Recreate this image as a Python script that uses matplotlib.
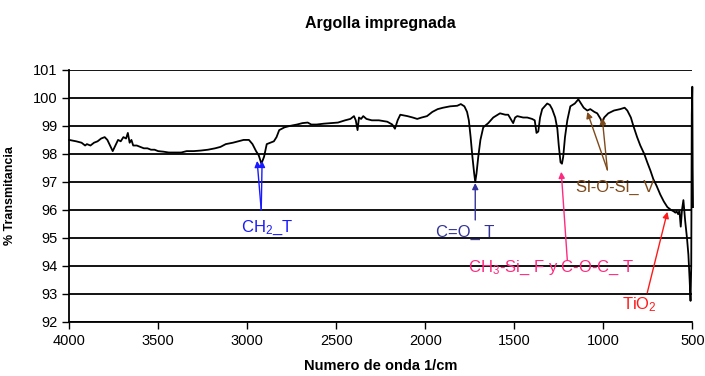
import matplotlib
matplotlib.use("Agg")
import matplotlib.pyplot as plt

plt.rcParams["font.family"] = ["Liberation Sans", "DejaVu Sans"]
plt.rcParams["mathtext.default"] = "regular"

# espectro FTIR (numero de onda, % transmitancia)
wn = [4000, 3960, 3930, 3910, 3900, 3880, 3860, 3840, 3820, 3800, 3785, 3770,
      3755, 3740, 3725, 3710, 3695, 3680, 3670, 3660, 3650, 3640, 3620, 3600,
      3580, 3560, 3540, 3520, 3500, 3470, 3440, 3400, 3370, 3340, 3300, 3260,
      3220, 3180, 3150, 3120, 3080, 3050, 3020, 2990, 2970, 2950, 2935, 2920,
      2905, 2890, 2870, 2850, 2835, 2820, 2790, 2760, 2720, 2690, 2660, 2640,
      2610, 2570, 2530, 2490, 2450, 2420, 2400, 2390, 2380, 2372, 2360, 2348,
      2330, 2300, 2260, 2213, 2185, 2170, 2155, 2140, 2100, 2070, 2045, 2020,
      1990, 1960, 1930, 1900, 1860, 1820, 1800, 1780, 1765, 1755, 1745, 1735,
      1725, 1719, 1712, 1702, 1690, 1674, 1646, 1618, 1580, 1550, 1534, 1515,
      1506, 1495, 1483, 1450, 1427, 1400, 1385, 1375, 1365, 1355, 1343, 1315,
      1300, 1287, 1270, 1258, 1250, 1240, 1232, 1225, 1215, 1202, 1185, 1160,
      1140, 1125, 1110, 1090, 1073, 1050, 1034, 1015, 1006, 995, 972, 940,
      905, 880, 865, 845, 831, 810, 792, 770, 753, 735, 719, 700,
      680, 660, 640, 620, 605, 595, 588, 580, 572, 565, 558, 550,
      540, 530, 522, 515, 510, 506, 503, 500, 498, 496]
trans = [98.5, 98.45, 98.4, 98.3, 98.35, 98.3, 98.4, 98.45, 98.55, 98.6, 98.5, 98.3,
         98.1, 98.3, 98.5, 98.45, 98.6, 98.55, 98.75, 98.4, 98.5, 98.3, 98.3, 98.25,
         98.2, 98.2, 98.15, 98.15, 98.1, 98.08, 98.05, 98.05, 98.05, 98.1, 98.1, 98.12,
         98.15, 98.2, 98.25, 98.35, 98.4, 98.45, 98.5, 98.5, 98.35, 98.1, 97.95, 97.65,
         97.9, 98.35, 98.4, 98.45, 98.6, 98.85, 98.95, 99.0, 99.05, 99.1, 99.12, 99.05,
         99.05, 99.08, 99.1, 99.12, 99.2, 99.25, 99.35, 99.2, 98.85, 99.3, 99.25, 99.35,
         99.25, 99.2, 99.2, 99.15, 99.05, 98.9, 99.2, 99.4, 99.35, 99.3, 99.25, 99.3,
         99.35, 99.5, 99.6, 99.65, 99.7, 99.72, 99.78, 99.7, 99.5, 99.2, 98.6, 97.9,
         97.3, 97.0, 97.3, 97.9, 98.5, 98.95, 99.1, 99.3, 99.45, 99.4, 99.4, 99.2,
         99.1, 99.3, 99.35, 99.3, 99.3, 99.25, 99.2, 98.75, 98.8, 99.3, 99.6, 99.8,
         99.75, 99.6, 99.3, 98.9, 98.3, 97.7, 97.65, 97.9, 98.6, 99.2, 99.7, 99.8,
         99.95, 99.8, 99.65, 99.55, 99.6, 99.5, 99.45, 99.25, 99.1, 99.3, 99.45, 99.55,
         99.6, 99.65, 99.55, 99.3, 99.0, 98.6, 98.3, 98.0, 97.7, 97.4, 97.1, 96.85,
         96.55, 96.3, 96.1, 96.0, 95.95, 95.9, 95.95, 95.85, 95.95, 95.4, 96.0, 96.35,
         95.6, 95.0, 94.4, 93.5, 92.75, 94.0, 99.4, 100.4, 97.5, 96.1]

x_ticks = [4000, 3500, 3000, 2500, 2000, 1500, 1000, 500]
y_ticks = [92, 93, 94, 95, 96, 97, 98, 99, 100, 101]

fig = plt.figure(figsize=(7.05, 3.76), dpi=100)
ax = fig.add_axes([0.098, 0.144, 0.884, 0.670])

for yv in y_ticks:
    ax.axhline(yv, color="black", linewidth=1.3, zorder=1)

ax.plot(wn, trans, color="black", linewidth=1.3, zorder=3, clip_on=False)

ax.set_xlim(4000, 500)
ax.set_ylim(92, 101)
ax.set_xticks(x_ticks)
ax.set_yticks(y_ticks)
ax.tick_params(direction="out", length=5, width=1, colors="black", labelsize=10.5)
for s in ["top", "right"]:
    ax.spines[s].set_visible(False)
for s in ["left", "bottom"]:
    ax.spines[s].set_linewidth(1.3)

ax.set_title("Argolla impregnada", fontsize=11.5, fontweight="bold", pad=30)
ax.set_xlabel("Numero de onda 1/cm", fontsize=10.5, fontweight="bold", labelpad=8)
ax.set_ylabel("% Transmitancia", fontsize=9, fontweight="bold", labelpad=12)

# ── Etiquetas de bandas ──
def arrow(head, tail, color):
    ax.annotate("", xy=head, xytext=tail,
                arrowprops=dict(arrowstyle="-|>", color=color, lw=1.0,
                                mutation_scale=9, shrinkA=0, shrinkB=0))

ch2 = "#1a1aff"
ax.text(2888, 95.36, "CH$_2$_T", color=ch2, fontsize=12, ha="center", va="center")
arrow((2944, 97.75), (2921, 96.0), ch2)
arrow((2916, 97.75), (2921, 96.0), ch2)

co = "#33339a"
ax.text(1775, 95.18, "C=O_ T", color=co, fontsize=12, ha="center", va="center")
arrow((1719, 96.96), (1719, 95.64), co)

ch3 = "#ff2a7f"
ax.text(1292, 93.93, "CH$_3$-Si_ F y C-O-C_ T", color=ch3, fontsize=12,
        ha="center", va="center")
arrow((1236, 97.36), (1202, 94.2), ch3)

sio = "#7f4a1a"
ax.text(933, 96.82, "Si-O-Si_ V", color=sio, fontsize=12, ha="center", va="center")
arrow((1090, 99.5), (977, 97.43), sio)
arrow((1006, 99.29), (977, 97.43), sio)

tio = "#ff1a1a"
ax.text(798, 92.6, "TiO$_2$", color=tio, fontsize=12, ha="center", va="center")
arrow((640, 95.93), (753, 93.04), tio)

plt.savefig("out.png", dpi=100)
plt.close()
